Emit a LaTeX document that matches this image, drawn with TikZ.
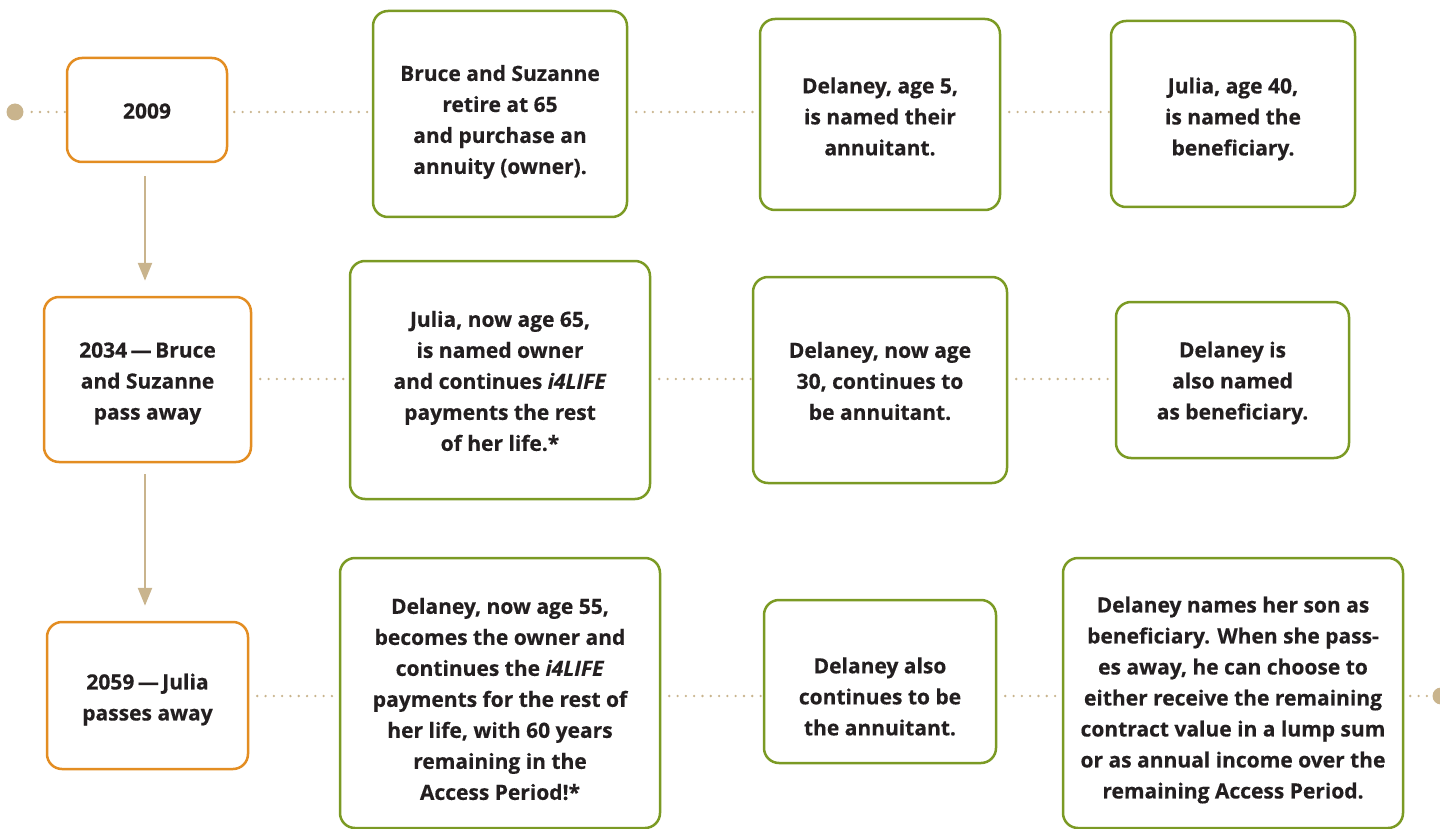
\documentclass[tikz,border=0pt]{standalone}
\usepackage{fontspec}
\setmainfont{Open Sans}[BoldFeatures={FakeBold=0.4},BoldItalicFeatures={FakeBold=0.4}]
\usetikzlibrary{arrows.meta}
\definecolor{orng}{HTML}{E38D22}
\definecolor{grn}{HTML}{7B9A24}
\definecolor{tan}{HTML}{C9B48D}
\definecolor{txt}{HTML}{231F20}
\tikzset{
  basebox/.style={draw, line width=2.5pt, rounded corners=15pt, inner sep=0pt, fill=white},
  obox/.style={basebox, draw=orng},
  gbox/.style={basebox, draw=grn},
  lbl/.style={inner sep=0pt, align=center, text=txt, font=\fontsize{21}{31}\selectfont\bfseries},
  dotline/.style={draw=tan, line width=2.6pt, line cap=round, dash pattern=on 0pt off 8.3pt},
  flowarrow/.style={draw=tan, line width=2.5pt, -{Triangle[width=14pt,length=18pt]}},
  enddot/.style={circle, fill=tan, minimum size=17pt, inner sep=0pt}
}
\begin{document}
\begin{tikzpicture}[x=1pt,y=-1pt]
\useasboundingbox (0,0) rectangle (1440,829);
% row 1
\node[enddot] (dotL) at (15,112) {};
\node[obox, minimum width=160pt, minimum height=104pt] (y1) at (147,110) {};
\node[lbl] (y1t) at ([yshift=-1pt]y1.center) {2009};
\node[gbox, minimum width=254pt, minimum height=206pt] (a) at (500,114) {};
\node[lbl] (at) at ([yshift=-8pt]a.center) {Bruce and Suzanne\\retire at 65\\and purchase an\\annuity (owner).};
\node[gbox, minimum width=240pt, minimum height=191pt] (b) at (880,114.5) {};
\node[lbl] (bt) at ([yshift=-2pt]b.center) {Delaney, age 5,\\is named their\\annuitant.};
\node[gbox, minimum width=244pt, minimum height=186pt] (c) at (1233,114) {};
\node[lbl] (ct) at ([yshift=-5pt]c.center) {Julia, age 40,\\is named the\\beneficiary.};
% row 2
\node[obox, minimum width=207pt, minimum height=165pt] (y2) at (147.5,379.5) {};
\node[lbl] (y2t) at ([yshift=-4pt]y2.center) {2034\,—\,Bruce\\and Suzanne\\pass away};
\node[gbox, minimum width=300pt, minimum height=238pt] (d) at (500,380) {};
\node[lbl] (dt) at ([yshift=-1pt]d.center) {Julia, now age 65,\\is named owner\\and continues \textit{i4LIFE}\\payments the rest\\of her life.*};
\node[gbox, minimum width=254pt, minimum height=206pt] (e) at (880,380) {};
\node[lbl] (et) at ([yshift=-1pt]e.center) {Delaney, now age\\30, continues to\\be annuitant.};
\node[gbox, minimum width=233pt, minimum height=156pt] (f) at (1232.5,380) {};
\node[lbl] (ft) at ([yshift=-3pt]f.center) {Delaney is\\also named\\as beneficiary.};
% row 3
\node[obox, minimum width=201pt, minimum height=147pt] (y3) at (147.5,695.5) {};
\node[lbl] (y3t) at ([yshift=-4pt]y3.center) {2059\,—\,Julia\\passes away};
\node[gbox, minimum width=320pt, minimum height=270pt] (g) at (500,693) {};
\node[lbl] (gt) at ([yshift=-6pt]g.center) {Delaney, now age 55,\\becomes the owner and\\continues the \textit{i4LIFE}\\payments for the rest of\\her life, with 60 years\\remaining in the\\Access Period!*};
\node[gbox, minimum width=232pt, minimum height=163pt] (h) at (880,681.5) {};
\node[lbl] (ht) at ([yshift=-15pt]h.center) {Delaney also\\continues to be\\the annuitant.};
\node[gbox, minimum width=340pt, minimum height=270pt] (i) at (1233,693) {};
\node[lbl] (it) at ([yshift=-7pt]i.center) {Delaney names her son as\\beneficiary. When she pass-\\es away, he can choose to\\either receive the remaining\\contract value in a lump sum\\or as annual income over the\\remaining Access Period.};
\node[enddot] (dotR) at (1441,696) {};
% dotted connectors
\coordinate (r1) at (0,112);
\coordinate (r2) at (0,379);
\coordinate (r3) at (0,696);
\draw[dotline] ([xshift=8pt]dotL.east) -- (y1.west |- r1);
\draw[dotline] ([xshift=6pt]y1.east |- r1) -- (a.west |- r1);
\draw[dotline] ([xshift=8pt]a.east |- r1) -- (b.west |- r1);
\draw[dotline] ([xshift=8pt]b.east |- r1) -- (c.west |- r1);
\draw[dotline] ([xshift=8pt]y2.east |- r2) -- (d.west |- r2);
\draw[dotline] ([xshift=8pt]d.east |- r2) -- (e.west |- r2);
\draw[dotline] ([xshift=8pt]e.east |- r2) -- (f.west |- r2);
\draw[dotline] ([xshift=8pt]y3.east |- r3) -- (g.west |- r3);
\draw[dotline] ([xshift=8pt]g.east |- r3) -- (h.west |- r3);
\draw[dotline] ([xshift=8pt]h.east |- r3) -- (i.west |- r3);
\draw[dotline] ([xshift=6pt]i.east |- r3) -- (dotR.west);
% arrows
\draw[flowarrow, shorten <=13pt, shorten >=15pt] (y1.south -| 145,0) -- (y2.north -| 145,0);
\draw[flowarrow, shorten <=11pt, shorten >=15pt] (y2.south -| 145,0) -- (y3.north -| 145,0);
\end{tikzpicture}
\end{document}
